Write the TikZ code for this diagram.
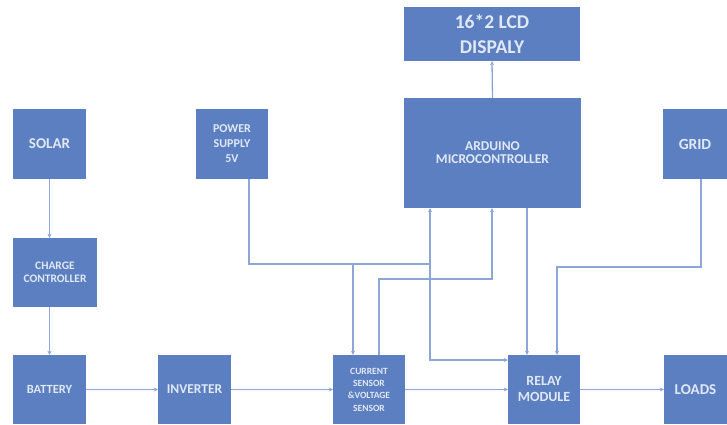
\documentclass[tikz,border=0pt]{standalone}
\usepackage{fontspec}
\setmainfont{Carlito}
\usetikzlibrary{arrows.meta}
\definecolor{boxblue}{RGB}{91,127,192}
\definecolor{linkblue}{RGB}{140,166,215}
\definecolor{txt}{RGB}{225,232,245}
\tikzset{
  box/.style={fill=boxblue, draw=none, inner sep=1pt, align=center, text=txt, font=\bfseries},
  link/.style={draw=linkblue, line width=1.3pt},
  arr/.style={link, -{Stealth[length=4pt,width=4pt]}},
}
\begin{document}
\begin{tikzpicture}[x=1pt,y=-1pt]
\useasboundingbox (0,0) rectangle (727,424);
% boxes
\node[box, minimum width=73, minimum height=70, font=\bfseries\fontsize{15}{16}\selectfont] (solar) at (49.5,144) {SOLAR};
\node[box, minimum width=84, minimum height=69, font=\bfseries\fontsize{11.5}{13}\selectfont] (charge) at (55,272.5) {CHARGE\\CONTROLLER};
\node[box, minimum width=73, minimum height=69, font=\bfseries\fontsize{12.5}{14}\selectfont] (battery) at (49.5,389.5) {BATTERY};
\node[box, minimum width=73, minimum height=69, font=\bfseries\fontsize{13.5}{15}\selectfont] (inverter) at (194.5,389.5) {INVERTER};
\node[box, minimum width=72, minimum height=70, font=\bfseries\fontsize{12}{15}\selectfont] (power) at (232,144) {POWER\\SUPPLY\\5V};
\node[box, minimum width=176, minimum height=54, font=\bfseries\fontsize{19.5}{25}\selectfont] (lcd) at (492,34) {16*2 LCD\\DISPALY};
\node[box, minimum width=177, minimum height=110, font=\bfseries\fontsize{13.5}{13}\selectfont] (arduino) at (492.5,153) {ARDUINO\\MICROCONTROLLER};
\node[box, minimum width=64, minimum height=70, font=\bfseries\fontsize{15.5}{17}\selectfont] (grid) at (695,144) {GRID};
\node[box, minimum width=72, minimum height=69, font=\bfseries\fontsize{9.5}{12.3}\selectfont] (sensor) at (369,389.5) {CURRENT\\SENSOR\\\&VOLTAGE\\SENSOR};
\node[box, minimum width=72, minimum height=69, font=\bfseries\fontsize{14}{16}\selectfont] (relay) at (544,389.5) {RELAY\\MODULE};
\node[box, minimum width=63, minimum height=69, font=\bfseries\fontsize{15}{16}\selectfont] (loads) at (695.5,389.5) {LOADS};
% junction coordinates
\coordinate (j1) at (353,264);
\coordinate (j2) at (430,264);
\coordinate (r1) at (430,360);
\coordinate (s1) at (379,279);
\coordinate (s2) at (492,279);
\coordinate (a1) at (527,0);
\coordinate (g1) at (701,267);
\coordinate (g2) at (557,267);
% connectors
\draw[arr] (solar.south) -- (solar.south |- charge.north);
\draw[arr] (solar.south |- charge.south) -- (solar.south |- battery.north);
\draw[arr] (battery.east) -- (inverter.west);
\draw[arr] (inverter.east) -- (sensor.west);
\draw[arr] (sensor.east) -- (relay.west);
\draw[arr] (relay.east) -- (loads.west);
\draw[arr] (arduino.north) -- (lcd.south);
\draw[link] (power.south -| 249,0) |- (j2);
\draw[arr] (j2) -- (j2 |- arduino.south);
\draw[arr] (j1) -- (j1 |- sensor.north);
\draw[arr] (j2) -- (r1) -- (r1 -| relay.west);
\draw[arr] (s1 |- sensor.north) -- (s1) -- (s2) -- (s2 |- arduino.south);
\draw[arr] (a1 |- arduino.south) -- (a1 |- relay.north);
\draw[arr] (g1 |- grid.south) -- (g1) -- (g2) -- (g2 |- relay.north);
\end{tikzpicture}
\end{document}
